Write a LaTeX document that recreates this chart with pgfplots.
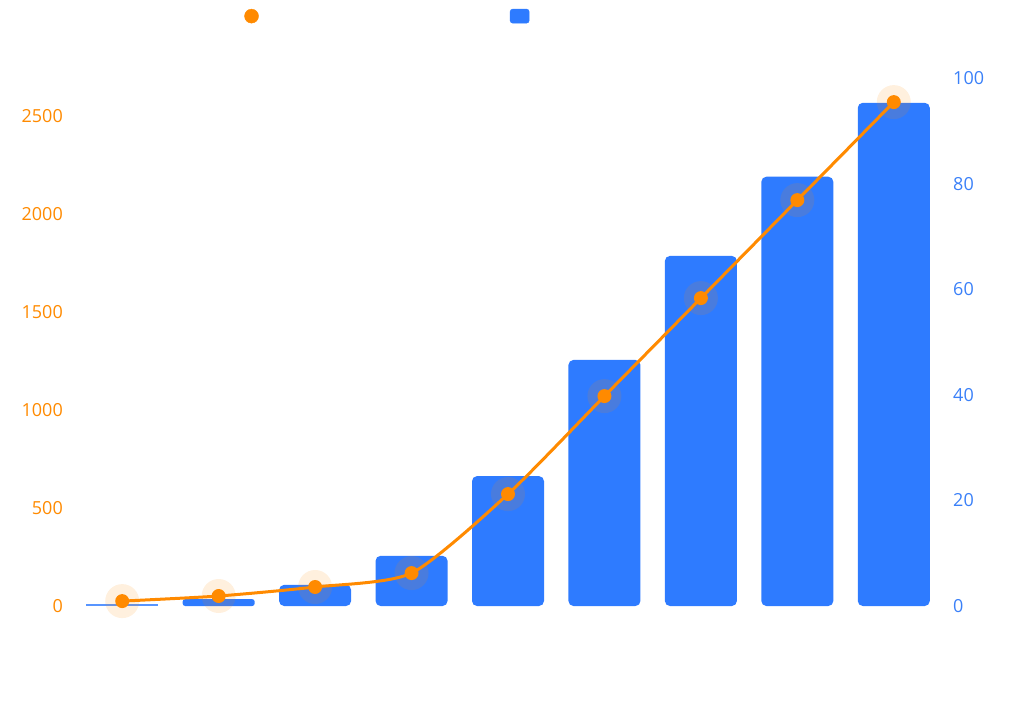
\documentclass[border=0pt]{standalone}
\usepackage{fontspec}
\setmainfont{Open Sans}
\usepackage{pgfplots}
\usepackage{pgfplotstable}
\pgfplotsset{compat=1.18}
\definecolor{lineorange}{HTML}{FF8A00}
\definecolor{barblue}{HTML}{2E7BFF}
\definecolor{tickblue}{HTML}{3A80F8}
\pgfplotstableread{
x bar line
0 0.4 25
1 1.3 51
2 4.0 97
3 9.5 168
4 24.6 571
5 46.6 1071
6 66.3 1571
7 81.3 2071
8 95.3 2571
}\data
\begin{document}
\begin{tikzpicture}[x=1pt,y=1pt]
\useasboundingbox (0,0) rectangle (1024,718);
\pgfplotsset{
  common/.style={
    at={(74pt,112pt)}, anchor=south west,
    scale only axis, width=868pt, height=528pt,
    xmin=-0.5, xmax=8.5,
    axis line style={draw=none},
    major tick length=0pt,
    clip=false,
    /pgf/number format/assume math mode=true,
    /pgf/number format/1000 sep={},
    ticklabel style={font=\fontsize{18}{20}\selectfont},
  }
}
% bars on the right axis
\begin{axis}[common,
  ymin=0, ymax=100, ytick={0,20,...,100},
  axis y line*=right,
  yticklabel style={anchor=west, inner sep=0pt, xshift=11pt, text=tickblue},
  xtick={0,...,8},
  xticklabels={2015,2016,2017,2018,2019,2020,2021,2022,2023},
  xticklabel style={white, rotate=40, anchor=north east, inner sep=0pt, yshift=-32pt,
    font=\fontsize{12}{14}\selectfont},
]
\addplot[ybar, bar width=72pt, bar shift=0pt, fill=barblue, draw=none,
  rounded corners=5pt] table[x=x, y=bar, skip coords between index={0}{2}] {\data};
\addplot[ybar, bar width=72pt, bar shift=0pt, fill=barblue, draw=none,
  rounded corners=2.5pt] table[x=x, y=bar, restrict expr to domain={\coordindex}{1:1}] {\data};
\addplot[ybar, bar width=72pt, bar shift=0pt, fill=barblue!80, draw=none]
  table[x=x, y=bar, restrict expr to domain={\coordindex}{0:0}] {\data};
\end{axis}
% line on the left axis
\begin{axis}[common,
  ymin=0, ymax=2694, ytick={0,500,...,2500},
  axis y line*=left,
  xtick=\empty,
  yticklabel style={anchor=east, inner sep=0pt, xshift=-11pt, text=lineorange},
  legend columns=2,
  legend style={draw=none, fill=none, at={(0.196,1.135)}, anchor=north west,
    font=\fontsize{17}{20}\selectfont, text=white,
    /tikz/every even column/.append style={column sep=17pt},
    inner sep=0pt},
]
\addplot[lineorange, only marks, mark=*, mark size=17pt,
  mark options={draw opacity=0, fill=lineorange, fill opacity=0.13}, forget plot]
  table[x=x, y=line] {\data};
\addplot[lineorange, line width=3pt, smooth, tension=0.4, mark=*,
  mark size=7pt, mark options={fill=lineorange, draw opacity=0}, forget plot]
  table[x=x, y=line] {\data};
\addlegendimage{legend image code/.code={\fill[lineorange] (7pt,0pt) circle (7pt);}}
\addlegendentry{Sequencing Data Output (PB)}
\addlegendimage{legend image code/.code={\fill[barblue, rounded corners=2.5pt] (0pt,-7pt) rectangle (19pt,7pt);}}
\addlegendentry{Human Genome Cost (thousand USD)}
\end{axis}
\end{tikzpicture}
\end{document}
